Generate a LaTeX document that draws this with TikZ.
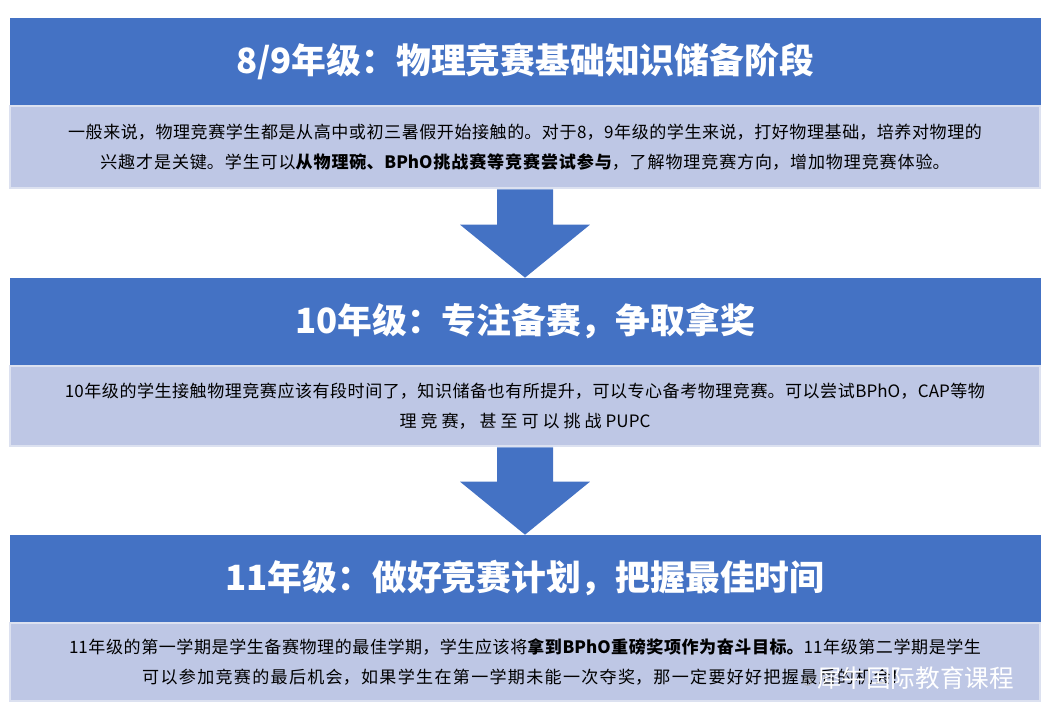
\documentclass[tikz,border=0pt]{standalone}
\usepackage{fontspec}
\setmainfont{Noto Sans CJK SC}
\XeTeXlinebreaklocale "zh"
\XeTeXlinebreakskip = 0pt plus 0.2pt
\usetikzlibrary{positioning}
\definecolor{headblue}{HTML}{4472C4}
\definecolor{bodyblue}{HTML}{BEC7E5}
\definecolor{edgeblue}{HTML}{DCE1F0}
\tikzset{
	head/.style = {fill=headblue, draw=headblue, minimum width=20.6cm, minimum height=1.74cm, inner sep=0pt, text=white, font=\fontsize{19.8}{24}\selectfont\bfseries},
	body/.style = {fill=bodyblue, draw=edgeblue, line width=0.4mm, minimum width=20.6cm, text width=20.4cm, align=center, inner sep=2pt, font=\fontsize{9.7}{17}\selectfont}
}
\begin{document}
\begin{tikzpicture}[x=0.02cm,y=-0.02cm]
	\useasboundingbox (0,0) rectangle (1053,725);
	
	\node[head] (h1) at (525,61.5) {8/9年级：物理竞赛基础知识储备阶段};
	\node[body, minimum height=1.64cm, anchor=north] (b1) at (h1.south) {一般来说，物理竞赛学生都是从高中或初三暑假开始接触的。对于8，9年级的学生来说，打好物理基础，培养对物理的\\兴趣才是关键。学生可以\textbf{从物理碗、BPhO挑战赛等竞赛尝试参与}，了解物理竞赛方向，增加物理竞赛体验。};
	
	\node[head] (h2) at (525,321.5) {10年级：专注备赛，争取拿奖};
	\node[body, minimum height=1.6cm, anchor=north] (b2) at (h2.south) {10年级的学生接触物理竞赛应该有段时间了，知识储备也有所提升，可以专心备考物理竞赛。可以尝试BPhO，CAP等物\\理竞赛，甚至可以挑战PUPC};
	
	\node[head] (h3) at (525,578.5) {11年级：做好竞赛计划，把握最佳时间};
	\node[body, minimum height=1.56cm, anchor=north] (b3) at (h3.south) {11年级的第一学期是学生备赛物理的最佳学期，学生应该将\textbf{拿到BPhO重磅奖项作为奋斗目标。}11年级第二学期是学生\\可以参加竞赛的最后机会，如果学生在第一学期未能一次夺奖，那一定要好好把握最后的机会！};
	
	% arrows between stages
	\foreach \a/\b in {b1/h2, b2/h3} {
		\fill[headblue] ([xshift=-0.56cm]\a.south) -- ([xshift=0.56cm]\a.south)
			-- ([xshift=0.56cm,yshift=1.06cm]\b.north) -- ([xshift=1.3cm,yshift=1.06cm]\b.north)
			-- (\b.north) -- ([xshift=-1.3cm,yshift=1.06cm]\b.north)
			-- ([xshift=-0.56cm,yshift=1.06cm]\b.north) -- cycle;
	}
	
	\node[text=white, font=\fontsize{14}{16}\selectfont, anchor=east] (mark) at (1020,678) {\textcolor{gray!60}{\large$\circ$}\,犀牛国际教育课程};
\end{tikzpicture}
\end{document}
